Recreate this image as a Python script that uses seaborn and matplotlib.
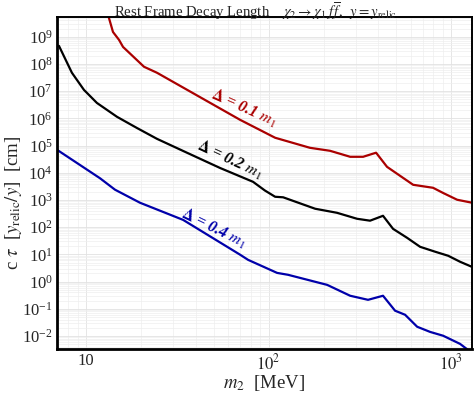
import numpy as np
import pandas as pd
import matplotlib
matplotlib.use("Agg")
import matplotlib.pyplot as plt
import matplotlib.ticker as mticker
import seaborn as sns

# log10(m2 / MeV) and log10(c tau / cm)
red_logm = [1.115, 1.148, 1.181, 1.203, 1.318, 1.389, 1.844, 2.036, 2.227, 2.337,
            2.447, 2.518, 2.589, 2.649, 2.792, 2.901, 2.956, 3.033, 3.115]
red_logct = [9.95, 9.18, 8.89, 8.63, 7.90, 7.68, 5.95, 5.29, 4.92, 4.81,
             4.59, 4.59, 4.74, 4.22, 3.56, 3.45, 3.26, 3.01, 2.90]

black_logm = [0.852, 0.923, 0.989, 1.060, 1.170, 1.279, 1.389, 1.553, 1.734, 1.915,
              1.980, 2.036, 2.080, 2.255, 2.375, 2.485, 2.556, 2.627, 2.682, 2.759,
              2.830, 2.912, 2.984, 3.049, 3.115]
black_logct = [8.67, 7.68, 7.05, 6.57, 6.06, 5.65, 5.25, 4.74, 4.18, 3.67,
               3.35, 3.12, 3.10, 2.68, 2.53, 2.31, 2.24, 2.42, 1.94, 1.61,
               1.28, 1.10, 0.95, 0.73, 0.54]

blue_logm = [0.841, 1.077, 1.159, 1.296, 1.532, 1.844, 1.888, 2.047, 2.107, 2.321,
             2.447, 2.545, 2.627, 2.693, 2.748, 2.814, 2.885, 2.956, 3.049, 3.100]
blue_logct = [4.85, 3.80, 3.38, 2.90, 2.27, 0.99, 0.80, 0.32, 0.25, -0.12,
              -0.52, -0.67, -0.52, -1.07, -1.22, -1.66, -1.85, -1.99, -2.29, -2.55]

curve_names = ["0.1", "0.2", "0.4"]
curve_colors = {"0.1": "#AA0000", "0.2": "#000000", "0.4": "#0000AA"}

frames = []
for name, lm, lc in zip(curve_names,
                        [red_logm, black_logm, blue_logm],
                        [red_logct, black_logct, blue_logct]):
    frames.append(pd.DataFrame({"m2": 10 ** np.array(lm),
                                "ctau": 10 ** np.array(lc),
                                "delta": name}))
df = pd.concat(frames, ignore_index=True)

sns.set_style("white")
plt.rcParams["font.family"] = ["Liberation Serif", "DejaVu Serif"]
plt.rcParams["mathtext.fontset"] = "stix"

fig = plt.figure(figsize=(4.74, 3.94), dpi=100)
ax = fig.add_axes([0.120, 0.114, 0.876, 0.843])

sns.lineplot(data=df, x="m2", y="ctau", hue="delta", palette=curve_colors,
             sort=False, estimator=None, linewidth=1.6, legend=False, ax=ax)

ax.set_xscale("log")
ax.set_yscale("log")
ax.set_xlim(6.93, 1303)
ax.set_ylim(3.3e-3, 5.4e9)

# faint Mathematica-like grid
ax.xaxis.set_minor_locator(mticker.LogLocator(base=10, subs=np.arange(2, 10)))
ax.yaxis.set_minor_locator(mticker.LogLocator(base=10, subs=np.arange(2, 10), numticks=30))
ax.yaxis.set_major_locator(mticker.LogLocator(base=10, numticks=30))
ax.grid(True, which="major", color="#e2e2e2", linewidth=0.6)
ax.grid(True, which="minor", color="#eeeeee", linewidth=0.5)
ax.set_axisbelow(True)

ax.set_xticks([10, 100, 1000])
ax.set_xticklabels(["10", "$10^2$", "$10^3$"])
ax.tick_params(which="major", direction="in", length=3, width=1, labelsize=12,
               color="black", pad=3)
ax.tick_params(which="minor", length=0)

for sp in ax.spines.values():
    sp.set_color("black")
    sp.set_linewidth(1.4)
ax.spines["left"].set_linewidth(2)
ax.spines["bottom"].set_linewidth(2)

ax.set_xlabel(r"$m_2$  [MeV]", fontsize=13.5)
ax.set_ylabel(r"c $\tau$  [$y_{\rm relic}/y$]  [cm]", fontsize=13.5)
ax.xaxis.set_label_coords(0.5, -0.071)
ax.yaxis.set_label_coords(-0.080, 0.44)
# title placed by its top edge so the bar over f stays inside the figure
fig.text(0.54, 0.999,
         r"Rest Frame Decay Length    $\chi_2 \to \chi_1\, f\,\overline{f},\;\; y = y_{\rm relic}$",
         fontsize=10.6, ha="center", va="top")

label_style = dict(fontsize=11.5, fontweight="bold", style="italic",
                   ha="center", va="center", transform=ax.transAxes)
ax.text(0.450, 0.727, r"$\mathbf{\Delta}$ = 0.1 $\boldsymbol{m_1}$", color=curve_colors["0.1"],
        rotation=-24, **label_style)
ax.text(0.416, 0.570, r"$\mathbf{\Delta}$ = 0.2 $\boldsymbol{m_1}$", color=curve_colors["0.2"],
        rotation=-25, **label_style)
ax.text(0.377, 0.364, r"$\mathbf{\Delta}$ = 0.4 $\boldsymbol{m_1}$", color=curve_colors["0.4"],
        rotation=-26, **label_style)

fig.savefig("out.png", dpi=100)
